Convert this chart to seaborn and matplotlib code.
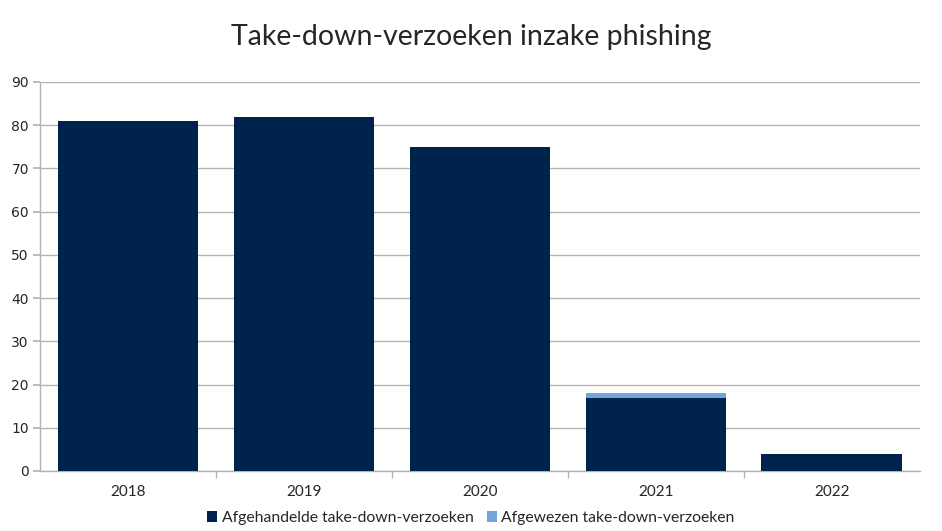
import matplotlib
matplotlib.use("Agg")
import matplotlib.pyplot as plt
import seaborn as sns
import pandas as pd
from matplotlib.patches import Patch

years = ["2018", "2019", "2020", "2021", "2022"]
afgehandeld = [81, 82, 75, 17, 4]
afgewezen = [0, 0, 0, 1, 0]
labels = ["Afgehandelde take-down-verzoeken", "Afgewezen take-down-verzoeken"]
colors = ["#00234c", "#72a4d9"]

sns.set_theme(style="white")
plt.rcParams['font.family'] = ['Lato', 'DejaVu Sans']

totals = [a + b for a, b in zip(afgehandeld, afgewezen)]
df = pd.DataFrame({"jaar": years, "afgehandeld": afgehandeld, "totaal": totals})

fig = plt.figure(figsize=(9.42, 5.31), dpi=100)
ax = fig.add_axes([0.0425, 0.113, 0.934, 0.7326])

sns.barplot(data=df, x="jaar", y="totaal", color=colors[1], saturation=1, width=0.8,
            ax=ax, zorder=3, linewidth=0, edgecolor="none")
sns.barplot(data=df, x="jaar", y="afgehandeld", color=colors[0], saturation=1, width=0.8,
            ax=ax, zorder=4, linewidth=0, edgecolor="none")

ax.set_xlim(-0.5, 4.5)
ax.set_ylim(0, 90)
ax.set_yticks(range(0, 91, 10))
ax.yaxis.grid(True, color="#b3b3b3", linewidth=1, zorder=0)
ax.set_axisbelow(True)
for s in ["top", "right"]:
    ax.spines[s].set_visible(False)
for s in ["left", "bottom"]:
    ax.spines[s].set_color("#b3b3b3")
    ax.spines[s].set_linewidth(1)
ax.set_xlabel("")
ax.set_ylabel("")
ax.tick_params(axis="y", left=True, length=5, color="#b3b3b3", labelsize=10, pad=3)
ax.tick_params(axis="x", bottom=False, labelsize=11, pad=4)
for lab in ax.get_yticklabels():
    lab.set_family("DejaVu Sans")
ax.set_xticks([0.5, 1.5, 2.5, 3.5], minor=True)
ax.tick_params(axis="x", which="minor", bottom=True, length=5, color="#b3b3b3")

fig.suptitle("Take-down-verzoeken inzake phishing", y=0.955, fontsize=20.5)

handles = [Patch(facecolor=c, edgecolor="none") for c in colors]
fig.legend(handles, labels, loc="lower center", bbox_to_anchor=(0.5, -0.015), ncol=2,
           frameon=False, fontsize=11.3, handlelength=0.65, handleheight=0.65,
           handletextpad=0.3, columnspacing=0.8)

fig.savefig("out.png", dpi=100)
